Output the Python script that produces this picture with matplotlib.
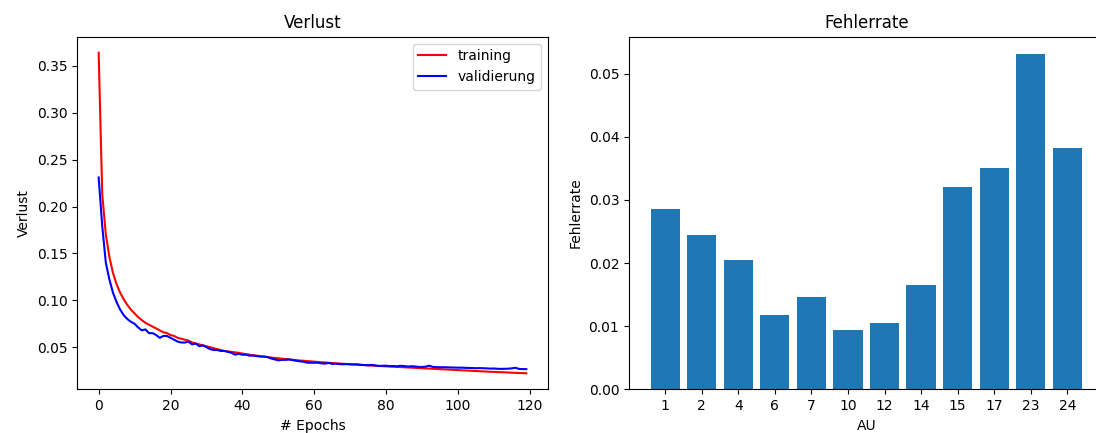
import matplotlib
matplotlib.use("Agg")
import matplotlib.pyplot as plt
import numpy as np

# ---- data ----
epochs = list(range(120))
training = [
    0.364, 0.213, 0.170, 0.146, 0.129, 0.117, 0.108, 0.101, 0.095, 0.090,
    0.086, 0.082, 0.079, 0.076, 0.074, 0.072, 0.070, 0.068, 0.066, 0.065,
    0.063, 0.062, 0.060, 0.059, 0.058, 0.057, 0.055, 0.054, 0.053, 0.052,
    0.051, 0.050, 0.049, 0.048, 0.047, 0.046, 0.0455, 0.045, 0.0445, 0.044,
    0.0432, 0.0426, 0.042, 0.0415, 0.041, 0.0405, 0.040, 0.0395, 0.039, 0.0386,
    0.0382, 0.0378, 0.0374, 0.0370, 0.0366, 0.0362, 0.0358, 0.0355, 0.0352, 0.0349,
    0.0346, 0.0343, 0.0340, 0.0337, 0.0334, 0.0331, 0.0328, 0.0326, 0.0323, 0.0321,
    0.0318, 0.0316, 0.0313, 0.0311, 0.0309, 0.0306, 0.0304, 0.0302, 0.0300, 0.0298,
    0.0296, 0.0294, 0.0292, 0.0290, 0.0288, 0.0286, 0.0284, 0.0282, 0.0280, 0.0278,
    0.0276, 0.0274, 0.0272, 0.0270, 0.0268, 0.0266, 0.0264, 0.0262, 0.0260, 0.0258,
    0.0256, 0.0254, 0.0252, 0.0250, 0.0248, 0.0246, 0.0244, 0.0242, 0.0240, 0.0238,
    0.0237, 0.0235, 0.0233, 0.0232, 0.0230, 0.0228, 0.0227, 0.0225, 0.0224, 0.0222,
]
validation = [
    0.231, 0.179, 0.140, 0.122, 0.108, 0.098, 0.090, 0.084, 0.080, 0.077,
    0.075, 0.071, 0.068, 0.069, 0.065, 0.065, 0.063, 0.060, 0.062, 0.062,
    0.060, 0.058, 0.056, 0.055, 0.055, 0.056, 0.053, 0.054, 0.051, 0.052,
    0.050, 0.048, 0.047, 0.047, 0.046, 0.046, 0.045, 0.044, 0.042, 0.043,
    0.042, 0.042, 0.041, 0.041, 0.0405, 0.040, 0.040, 0.0395, 0.038, 0.037,
    0.036, 0.0365, 0.0365, 0.037, 0.0362, 0.0355, 0.035, 0.0345, 0.0335, 0.0335,
    0.0334, 0.0335, 0.0328, 0.0325, 0.0332, 0.0322, 0.0325, 0.0320, 0.0318, 0.0320,
    0.0317, 0.0316, 0.0318, 0.0312, 0.0310, 0.0308, 0.0312, 0.0306, 0.0300, 0.0302,
    0.0303, 0.0298, 0.0300, 0.0296, 0.0302, 0.0299, 0.0294, 0.0297, 0.0295, 0.0290,
    0.0289, 0.0293, 0.0303, 0.0290, 0.0288, 0.0286, 0.0287, 0.0285, 0.0284, 0.0283,
    0.0282, 0.0282, 0.0280, 0.0279, 0.0278, 0.0276, 0.0277, 0.0276, 0.0274, 0.0272,
    0.0273, 0.0270, 0.0269, 0.0270, 0.0271, 0.0275, 0.0281, 0.0268, 0.0267, 0.0266,
]
au_labels = ["1", "2", "4", "6", "7", "10", "12", "14", "15", "17", "23", "24"]
error_rates = [0.0285, 0.0244, 0.0205, 0.0117, 0.0147, 0.0094, 0.0105, 0.0165,
               0.0321, 0.0351, 0.0532, 0.0382]

# ---- figure ----
fig = plt.figure(figsize=(10.96, 4.33), dpi=100)
ax1 = fig.add_axes([0.0705, 0.1009, 0.4292, 0.8143])
ax2 = fig.add_axes([0.5739, 0.1009, 0.4330, 0.8143])

ax1.plot(epochs, training, color="red", label="training")
ax1.plot(epochs, validation, color="blue", label="validierung")
ax1.set_title("Verlust")
ax1.set_xlabel("# Epochs")
ax1.set_ylabel("Verlust")
ax1.legend(loc="upper right")

x = np.arange(len(au_labels))
ax2.bar(x, error_rates, color="#1f77b4")
ax2.set_xticks(x)
ax2.set_xticklabels(au_labels)
ax2.set_title("Fehlerrate")
ax2.set_xlabel("AU")
ax2.set_ylabel("Fehlerrate")

fig.savefig("out.png", dpi=100)
